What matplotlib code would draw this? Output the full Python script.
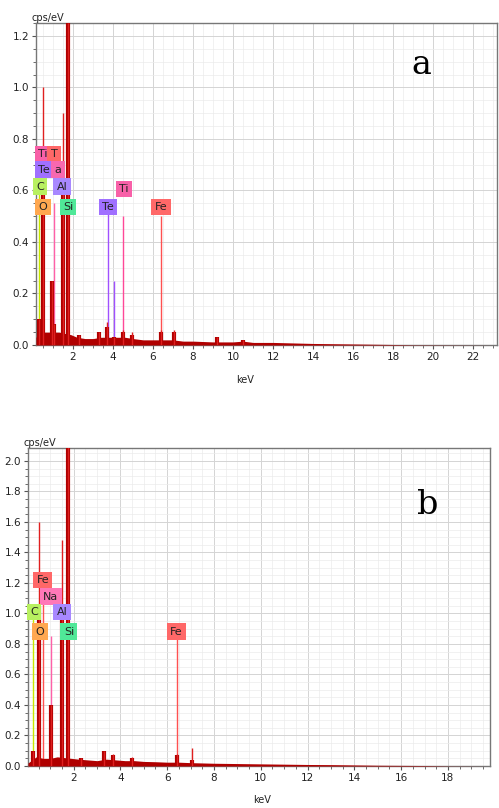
import numpy as np
import matplotlib.pyplot as plt
from matplotlib.ticker import MultipleLocator

# ---- panel a data (keV, cps/eV) ----
a_peak_kev = [0.28, 0.52, 0.93, 1.05, 1.49, 1.74, 2.3, 3.31, 3.69, 4.03, 4.51, 4.95, 6.40, 7.06, 9.2, 10.5]
a_peak_body = [0.10, 0.62, 0.25, 0.08, 0.62, 1.25, 0.04, 0.05, 0.07, 0.03, 0.05, 0.04, 0.05, 0.05, 0.03, 0.02]
a_peak_tip = [0.10, 1.00, 0.25, 0.08, 0.90, 1.25, 0.04, 0.05, 0.09, 0.03, 0.06, 0.05, 0.06, 0.06, 0.03, 0.02]
a_bg_kev = [0.15, 0.4, 0.7, 1.0, 1.3, 1.9, 2.2, 2.6, 3.0, 3.4, 3.8, 4.2, 4.6, 5.0, 5.5,
            6.0, 6.5, 7.0, 7.5, 8.0, 9.0, 10.0, 10.5, 11.0, 12.0, 13.0, 14.0, 15.0,
            16.0, 17.0, 18.0, 19.0, 23.2]
a_bg_val = [0.03, 0.05, 0.05, 0.05, 0.05, 0.04, 0.03, 0.025, 0.025, 0.03, 0.03, 0.03,
            0.03, 0.025, 0.02, 0.02, 0.02, 0.02, 0.015, 0.015, 0.012, 0.012, 0.015,
            0.01, 0.01, 0.008, 0.006, 0.005, 0.004, 0.003, 0.002, 0.001, 0.0]
a_lines = [("C", 0.28, 0.60), ("O", 0.52, 0.60), ("Na", 1.04, 0.55), ("Al", 1.49, 0.60),
           ("Si", 1.74, 0.55), ("Te", 3.77, 0.53), ("Te", 4.03, 0.25),
           ("Ti", 4.51, 0.50), ("Fe", 6.40, 0.50)]
# label boxes: text, keV, cps/eV
a_labels = [("Ti", 0.50, 0.74), ("T", 1.05, 0.74), ("Te", 0.55, 0.68), ("a", 1.25, 0.68),
            ("C", 0.35, 0.615), ("Al", 1.45, 0.615), ("Ti", 4.55, 0.605),
            ("O", 0.50, 0.536), ("Si", 1.75, 0.536), ("Te", 3.75, 0.536), ("Fe", 6.40, 0.536)]

# ---- panel b data ----
b_peak_kev = [0.28, 0.52, 1.04, 1.49, 1.74, 2.3, 3.31, 3.69, 4.51, 6.40, 7.06]
b_peak_body = [0.10, 1.05, 0.40, 1.05, 2.10, 0.05, 0.10, 0.07, 0.05, 0.07, 0.04]
b_peak_tip = [0.10, 1.60, 0.40, 1.48, 2.10, 0.05, 0.10, 0.08, 0.06, 0.08, 0.12]
b_bg_kev = [0.05, 0.4, 0.7, 1.0, 1.3, 1.9, 2.2, 2.6, 3.0, 3.4, 3.8, 4.2, 4.6, 5.0, 5.5,
            6.0, 6.5, 7.0, 7.5, 8.0, 9.0, 10.0, 11.0, 12.0, 13.0, 14.0, 15.0, 16.0,
            17.0, 18.0, 19.8]
b_bg_val = [0.02, 0.06, 0.05, 0.05, 0.06, 0.05, 0.045, 0.04, 0.035, 0.045, 0.04, 0.035,
            0.035, 0.03, 0.028, 0.025, 0.025, 0.022, 0.02, 0.018, 0.016, 0.014, 0.012,
            0.01, 0.009, 0.007, 0.005, 0.004, 0.003, 0.001, 0.0]
b_lines = [("C", 0.28, 1.00), ("O", 0.52, 0.90), ("Na", 1.04, 0.85), ("Al", 1.49, 1.00),
           ("Si", 1.74, 0.90), ("Fe", 0.70, 1.20), ("Fe", 6.40, 0.88)]
b_labels = [("Fe", 0.68, 1.22), ("Na", 1.03, 1.11), ("C", 0.30, 1.01), ("Al", 1.50, 1.01),
            ("O", 0.56, 0.88), ("Si", 1.80, 0.88), ("Fe", 6.40, 0.88)]

colors = {"C": "#b8f060", "O": "#ffa850", "Na": "#ff78b8", "Al": "#a888ff",
          "Si": "#50e898", "Te": "#a070ff", "Ti": "#f860a8", "Fe": "#ff6868",
          "T": "#ff6868", "a": "#f868b0"}
line_colors = {"C": "#c8e800", "O": "#ff9040", "Na": "#ff60a8", "Al": "#9050ff",
               "Si": "#30d070", "Te": "#a050ff", "Ti": "#ff4898", "Fe": "#ff5050"}

fig = plt.figure(figsize=(4.99, 8.08), dpi=100)
W, H = 499, 808


def panel(rect, xlim, ylim, peak_kev, body, tip, bg_kev, bg_val, lines, labels,
          letter, letter_xy, kev_xy):
    l, t, r, b = rect
    ax = fig.add_axes([l / W, 1 - b / H, (r - l) / W, (b - t) / H])
    ax.set_xlim(*xlim)
    ax.set_ylim(*ylim)
    ax.xaxis.set_major_locator(MultipleLocator(2))
    ax.xaxis.set_minor_locator(MultipleLocator(0.5))
    ax.yaxis.set_major_locator(MultipleLocator(0.2))
    ax.yaxis.set_minor_locator(MultipleLocator(0.05))
    ax.grid(which="major", color="#d4d4d4", lw=0.7)
    ax.grid(which="minor", color="#ebebeb", lw=0.5)
    ax.set_axisbelow(True)
    ax.tick_params(which="both", direction="out", color="#555555", labelsize=7.5,
                   labelcolor="#222222", pad=2)
    ax.tick_params(which="major", length=3)
    ax.tick_params(which="minor", length=2)
    for s in ax.spines.values():
        s.set_color("#777777")
        s.set_linewidth(1.0)
    ax.xaxis.set_major_formatter(lambda v, p: "" if v <= 0 else f"{v:.0f}")
    ax.yaxis.set_major_formatter(lambda v, p: f"{v:.1f}")

    for name, kev, h in lines:
        ax.vlines(kev, 0, h, color=line_colors[name], lw=1.0, zorder=2)
    ax.fill_between(bg_kev, 0, bg_val, color="#b00000", lw=0, zorder=3)
    ax.vlines(peak_kev, 0, body, color="#b00000", lw=3.0, zorder=3)
    ax.vlines(peak_kev, 0, tip, color="#e02020", lw=1.0, zorder=3)

    for name, kev, h in labels:
        ax.text(kev, h, name, fontsize=8, ha="center", va="center", zorder=5,
                color="#222222",
                bbox=dict(boxstyle="square,pad=0.3", fc=colors[name], ec="none"))

    ax.text(-0.01, 1.0, "cps/eV", transform=ax.transAxes, fontsize=7,
            ha="left", va="bottom", color="#222222")
    fig.text(kev_xy[0] / W, 1 - kev_xy[1] / H, "keV", fontsize=7,
             ha="center", va="center", color="#222222")
    ax.text(letter_xy[0], letter_xy[1], letter, transform=ax.transAxes,
            fontsize=24, family="DejaVu Serif", ha="center", va="center")
    return ax


panel((36, 23, 497, 345), (0.15, 23.2), (0, 1.25),
      a_peak_kev, a_peak_body, a_peak_tip, a_bg_kev, a_bg_val,
      a_lines, a_labels, "a", (0.835, 0.87), (245, 380))

panel((28, 448, 490, 766), (0.05, 19.8), (0, 2.085),
      b_peak_kev, b_peak_body, b_peak_tip, b_bg_kev, b_bg_val,
      b_lines, b_labels, "b", (0.865, 0.82), (262, 800))

fig.savefig("out.png", dpi=100)
